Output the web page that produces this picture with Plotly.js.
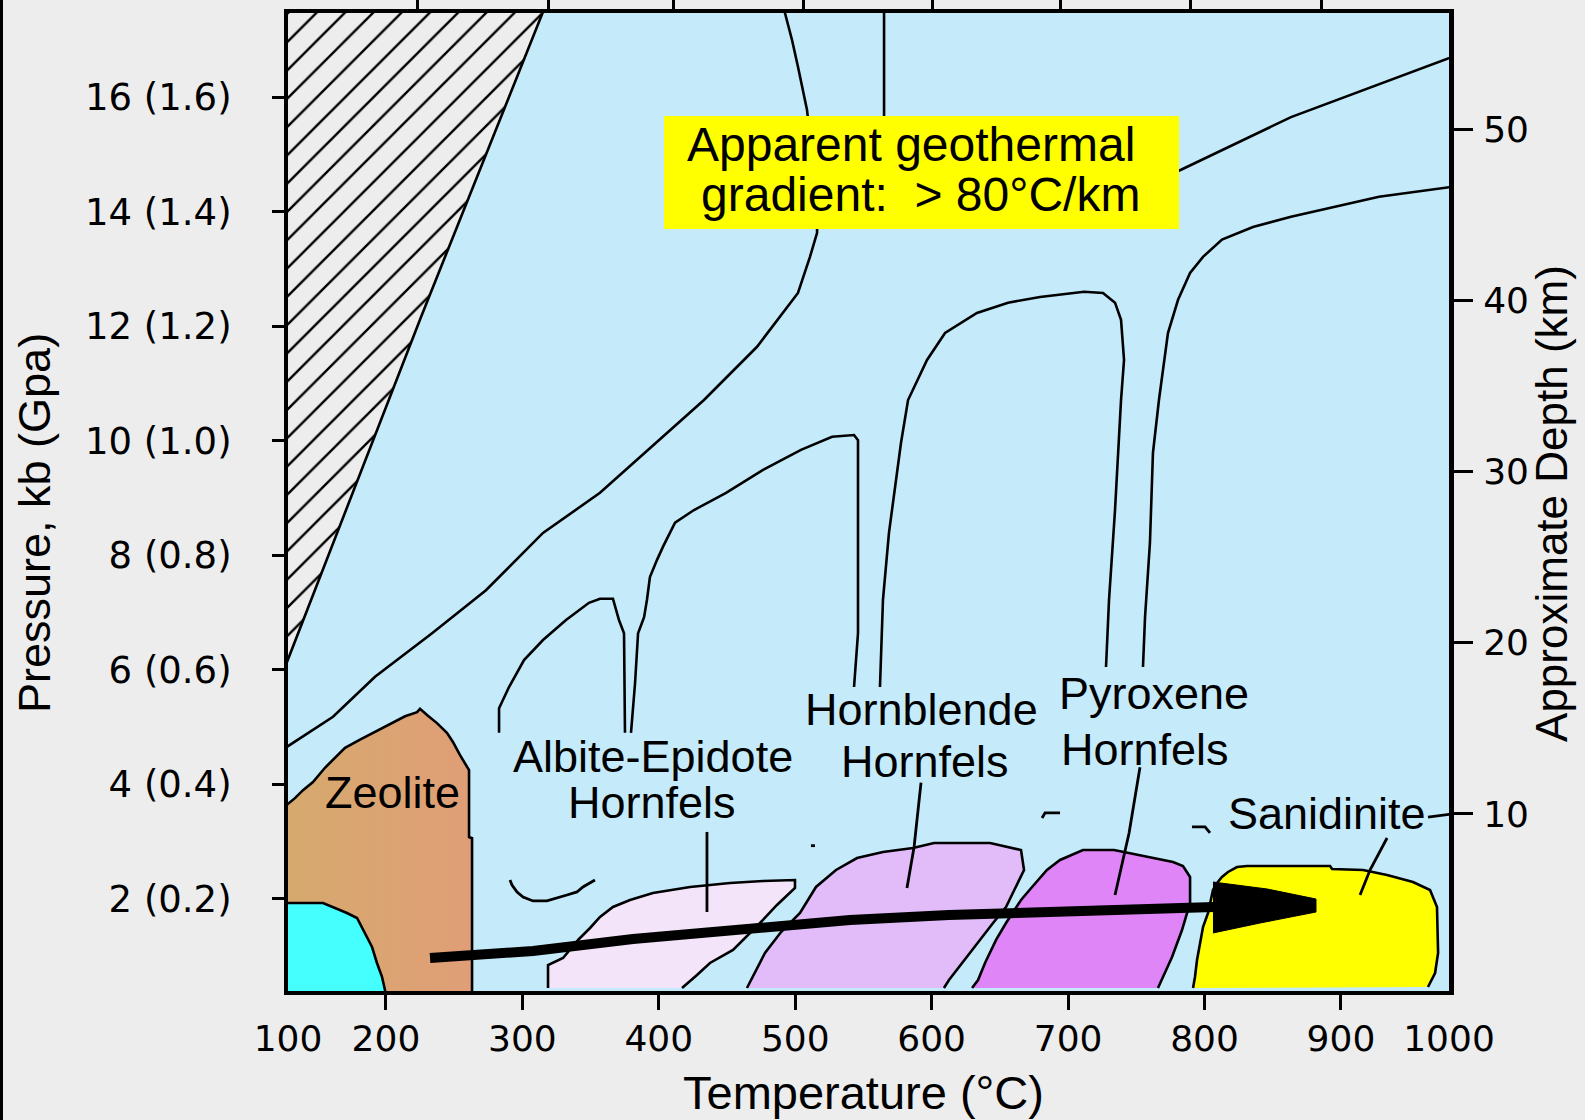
<!DOCTYPE html>
<html>
<head>
<meta charset="utf-8">
<script src="https://cdn.plot.ly/plotly-3.0.1.min.js"></script>
<style>
html,body{margin:0;padding:0;background:#EDEDED;overflow:hidden}
#edge{position:absolute;left:0;top:0;width:3px;height:1120px;background:#000;z-index:5}
</style>
</head>
<body>
<div id="chart" style="width:1585px;height:1120px"></div>
<div id="edge"></div>
<script>
// ---------- axes (Temperature °C, Pressure kb, Depth km) ----------
const xRange = [128.2, 979.2];
const pRange = [0.393, 17.467];
const depthRange = [-0.34, 56.79];
const xTickVals = [200, 300, 400, 500, 600, 700, 800, 900];
const xLabelVals = [128.2, 200, 300, 400, 500, 600, 700, 800, 900, 979.2];
const xLabelText = ['100', '200', '300', '400', '500', '600', '700', '800', '900', '1000'];
const topTickVals = [222.8, 319.5, 410.4, 506.4, 600.3, 694.1, 789.4, 885.4];
const pTickVals = [2, 4, 6, 8, 10, 12, 14, 16];
const pTickText = ['2 (0.2)', '4 (0.4)', '6 (0.6)', '8 (0.8)', '10 (1.0)', '12 (1.2)', '14 (1.4)', '16 (1.6)'];
const depthTickVals = [10, 20, 30, 40, 50];

// ---------- hatched (impossible) field ----------
const hatchEdgeT = [317, 225.7, 120];
const hatchEdgeP = [17.6, 12.16, 5.68];
const hatchCornerT = [120];
const hatchCornerP = [17.6];

// ---------- facies boundary curves ----------
const lowCurveT = [120, 138.5, 161.2, 192.0, 233.8, 273.3, 315.1, 356.9, 433.1, 472.0, 494.7, 502.0, 510.8, 516.0, 516.0, 508.6, 502.0, 497.6, 491];
const lowCurveP = [4.54, 4.83, 5.18, 5.88, 6.64, 7.39, 8.39, 9.09, 10.71, 11.64, 12.34, 12.58, 13.21, 13.63, 14.20, 15.78, 16.53, 17.00, 17.6];
const vertT = [565.1, 565.1];
const vertP = [17.6, 15.2];
const upperT = [987.3, 863.4, 782.8, 771.1];
const upperP = [16.75, 15.65, 14.73, 14.61];
const highT = [987.3, 927.9, 863.4, 835.5, 812.8, 798.9, 789.4, 780.6, 773.2, 766.6, 762.2, 760.0, 756.4, 754.9];
const highP = [14.45, 14.26, 13.91, 13.73, 13.51, 13.21, 12.93, 12.46, 11.88, 10.71, 9.79, 8.22, 6.92, 6.05];
const pxHumpT = [562.1, 564.3, 568.7, 577.5, 582.7, 596.6, 609.8, 633.2, 656.0, 679.4, 711.7, 725.6, 734.4, 738.8, 741.0, 738.8, 734.4, 730.0, 727.8];
const pxHumpP = [5.70, 7.22, 8.39, 9.96, 10.71, 11.41, 11.88, 12.23, 12.41, 12.51, 12.60, 12.58, 12.41, 12.11, 11.41, 10.71, 8.79, 7.22, 6.05];
const hbHumpT = [379.6, 382.6, 384.8, 389.2, 391.3, 393.5, 398.7, 403.1, 411.9, 425.8, 449.3, 476.4, 504.2, 527.0, 543.1, 546.0, 546.0, 543.1];
const hbHumpP = [4.90, 5.77, 6.64, 6.92, 7.22, 7.62, 7.92, 8.15, 8.57, 8.79, 9.09, 9.49, 9.84, 10.07, 10.10, 10.01, 6.64, 5.70];
const abHumpT = [282.9, 282.9, 290.2, 301.2, 315.1, 332.0, 348.8, 356.9, 366.4, 370.8, 374.5, 375.2];
const abHumpP = [4.90, 5.33, 5.70, 6.17, 6.52, 6.87, 7.17, 7.24, 7.24, 6.87, 6.64, 4.90];

// ---------- contact-metamorphic facies fields ----------
const zeoT = [120, 133.3, 139.2, 146.5, 155.3, 161.2, 170.0, 181.0, 190.5, 200.8, 214.0, 222.8, 225.0, 230.1, 237.4, 244.7, 249.1, 254.3, 257.9, 260.9, 260.9, 263.1, 263.1];
const zeoP = [3.50, 3.76, 3.90, 4.04, 4.29, 4.43, 4.64, 4.78, 4.90, 5.02, 5.19, 5.26, 5.32, 5.21, 5.07, 4.90, 4.74, 4.51, 4.37, 4.25, 3.08, 3.06, 0.2];
const cyanT = [199.3, 199.3, 197.1, 193.4, 189.8, 183.2, 178.8, 171.4, 161.2, 153.9, 120];
const cyanP = [0.2, 0.41, 0.64, 0.882, 1.161, 1.458, 1.668, 1.755, 1.86, 1.93, 1.93];
const cyanCornerT = [120];
const cyanCornerP = [0.2];
const abT = [318.8, 318.8, 329.8, 340.8, 349.6, 356.9, 366.4, 378.9, 395.7, 422.9, 452.2, 476.4, 499.8, 499.8, 486.6, 474.2, 454.4, 437.5, 428.0, 417.0];
const abP = [0.445, 0.847, 0.969, 1.284, 1.493, 1.685, 1.86, 1.982, 2.104, 2.209, 2.279, 2.314, 2.331, 2.191, 1.895, 1.58, 1.109, 0.882, 0.672, 0.445];
const hbT = [464.6, 470.5, 477.8, 489.6, 503.5, 515.2, 529.9, 545.3, 564.3, 586.3, 601.7, 642.8, 665.5, 667.7, 664.0, 654.5, 645.0, 635.4, 624.4, 612.7, 609.0];
const hbP = [0.445, 0.725, 1.056, 1.423, 1.755, 2.209, 2.506, 2.715, 2.82, 2.89, 2.977, 2.977, 2.855, 2.506, 2.331, 1.86, 1.58, 1.284, 0.934, 0.585, 0.445];
const pxT = [629.6, 634.0, 639.1, 647.2, 654.5, 665.5, 673.6, 684.5, 694.1, 710.9, 733.7, 760.0, 776.9, 784.2, 789.4, 789.4, 783.5, 776.2, 768.8, 765.9];
const pxP = [0.445, 0.585, 0.882, 1.284, 1.58, 1.982, 2.209, 2.506, 2.68, 2.855, 2.855, 2.733, 2.646, 2.576, 2.384, 1.93, 1.458, 0.987, 0.585, 0.445];
const sdT = [791.6, 793.0, 794.5, 796.7, 798.9, 802.6, 806.2, 809.2, 812.8, 817.2, 823.8, 831.2, 892.0, 893.5, 916.2, 933.8, 952.8, 965.3, 970.4, 971.2, 969.0, 963.8];
const sdP = [0.445, 0.637, 0.934, 1.231, 1.51, 1.755, 2.157, 2.279, 2.384, 2.471, 2.558, 2.576, 2.576, 2.523, 2.506, 2.418, 2.296, 2.157, 1.86, 1.056, 0.707, 0.463];

// ---------- path arrow ----------
const arrowT = [232.3, 307.8, 381.1, 454.4, 488.8, 540.1, 612.7, 718.3, 807.0];
const arrowP = [0.969, 1.091, 1.301, 1.458, 1.563, 1.633, 1.72, 1.79, 1.86];
const headT = [806.2, 845.8, 881.7, 881.7, 840.7, 806.2];
const headP = [2.296, 2.174, 1.999, 1.772, 1.58, 1.406];

// ---------- label leaders and small marks ----------
const abLeaderT = [435.3, 435.3];
const abLeaderP = [3.17, 1.772];
const hbLeaderT = [592.2, 587.1, 581.9];
const hbLeaderP = [4.03, 2.907, 2.191];
const pxLeaderT = [752.7, 744.7, 734.4];
const pxLeaderP = [4.30, 3.152, 2.069];
const sdLeaderT = [933.8, 921.3, 914.0];
const sdLeaderP = [3.064, 2.506, 2.069];
const sdDashT = [963.8, 980];
const sdDashP = [3.43, 3.48];
const cupT = [290.9, 292.4, 296.1, 300.5, 307.8, 318.0, 332.7, 340.0, 344.4, 353.2];
const cupP = [2.331, 2.244, 2.122, 2.034, 1.965, 1.965, 2.069, 2.122, 2.209, 2.331];
const mark1T = [511.5, 514.5];
const mark1P = [2.93, 2.93];
const mark2T = [680.9, 683.1, 694.1];
const mark2P = [3.414, 3.501, 3.501];
const mark3T = [790.8, 800.4, 804.0];
const mark3P = [3.257, 3.257, 3.152];

// ---------- text ----------
const faciesLabels = ['Zeolite', 'Albite-Epidote', 'Hornfels', 'Hornblende', 'Hornfels', 'Pyroxene', 'Hornfels', 'Sanidinite'];
const faciesLabelT = [204.8, 396.1, 395.0, 592.9, 595.1, 763.3, 756.4, 890.1];
const faciesLabelP = [3.859, 4.488, 3.684, 5.30, 4.40, 5.579, 4.610, 3.484];
const boxLines = ['Apparent geothermal', 'gradient:&nbsp; &gt; 80°C/km'];
const boxLineT = [584.9, 591.5];
const boxLineP = [15.165, 14.292];

// ---------- build ----------
const BLACK = '#000000';
function line(T, P, w) {
  return {type: 'scatter', mode: 'lines', x: T, y: P, line: {color: BLACK, width: w},
          hoverinfo: 'skip', showlegend: false};
}
function region(T, P, fill, w) {
  return {type: 'scatter', mode: 'lines', x: T, y: P, fill: 'toself', fillcolor: fill,
          line: {color: BLACK, width: w}, hoverinfo: 'skip', showlegend: false};
}

const traces = [];
// hatched field
traces.push({type: 'scatter', mode: 'lines', x: hatchCornerT.concat(hatchEdgeT), y: hatchCornerP.concat(hatchEdgeP),
  fill: 'toself', fillcolor: '#EDEDED',
  fillpattern: {shape: '/', fgcolor: BLACK, bgcolor: '#EDEDED', size: 20, solidity: 0.12},
  line: {width: 0, color: 'rgba(0,0,0,0)'}, hoverinfo: 'skip', showlegend: false});
traces.push(line(hatchEdgeT, hatchEdgeP, 2.6));

// zeolite and cyan fields
traces.push({type: 'scatter', mode: 'lines', x: zeoT.concat(cyanT), y: zeoP.concat(cyanP),
  fill: 'toself', fillcolor: '#DBA672',
  fillgradient: {type: 'horizontal', colorscale: [[0, '#D5AA6D'], [1, '#E09E77']]},
  line: {width: 0, color: 'rgba(0,0,0,0)'}, hoverinfo: 'skip', showlegend: false});
traces.push({type: 'scatter', mode: 'lines', x: cyanT.concat(cyanCornerT), y: cyanP.concat(cyanCornerP),
  fill: 'toself', fillcolor: '#45FFFF',
  line: {width: 0, color: 'rgba(0,0,0,0)'}, hoverinfo: 'skip', showlegend: false});
traces.push(line(zeoT, zeoP, 2.6));
traces.push(line(cyanT, cyanP, 2.6));

// hornfels fields
traces.push(region(abT, abP, '#F4E4FA', 2.6));
traces.push(region(hbT, hbP, '#E2BCF9', 2.6));
traces.push(region(pxT, pxP, '#E085F8', 2.6));
traces.push(region(sdT, sdP, '#FFFF00', 2.6));

// boundary curves
[[lowCurveT, lowCurveP], [vertT, vertP], [upperT, upperP], [highT, highP],
 [pxHumpT, pxHumpP], [hbHumpT, hbHumpP], [abHumpT, abHumpP]].forEach(function (c) {
  traces.push(line(c[0], c[1], 2.6));
});

// leaders and marks
[[abLeaderT, abLeaderP], [hbLeaderT, hbLeaderP], [pxLeaderT, pxLeaderP], [sdLeaderT, sdLeaderP],
 [sdDashT, sdDashP], [cupT, cupP], [mark1T, mark1P], [mark2T, mark2P], [mark3T, mark3P]].forEach(function (c) {
  traces.push(line(c[0], c[1], 2.8));
});

// arrow
traces.push(line(arrowT, arrowP, 10));
traces.push({type: 'scatter', mode: 'lines', x: headT, y: headP, fill: 'toself', fillcolor: BLACK,
  line: {color: BLACK, width: 1}, hoverinfo: 'skip', showlegend: false});

// anchor traces for the secondary axes (invisible)
traces.push({type: 'scatter', mode: 'markers', x: [xTickVals[3]], y: [depthTickVals[1]], xaxis: 'x2', yaxis: 'y2',
  marker: {opacity: 0}, hoverinfo: 'skip', showlegend: false});
traces.push({type: 'scatter', mode: 'markers', x: [xTickVals[3]], y: [pTickVals[1]], xaxis: 'x3', yaxis: 'y',
  marker: {opacity: 0}, hoverinfo: 'skip', showlegend: false});

const tickFont = {family: 'DejaVu Sans', size: 36, color: BLACK};
const labelFont = {family: 'Liberation Sans, Arial, sans-serif', size: 45, color: BLACK};

const annotations = [];
faciesLabels.forEach(function (t, i) {
  annotations.push({xref: 'x', yref: 'y', x: faciesLabelT[i], y: faciesLabelP[i], text: t,
    showarrow: false, xanchor: 'center', yanchor: 'middle', font: labelFont});
});
boxLines.forEach(function (t, i) {
  annotations.push({xref: 'x', yref: 'y', x: boxLineT[i], y: boxLineP[i], text: t,
    showarrow: false, xanchor: 'center', yanchor: 'middle',
    font: {family: 'Liberation Sans, Arial, sans-serif', size: 48, color: BLACK}});
});
// axis titles
annotations.push({xref: 'paper', yref: 'paper', x: 0.4961, y: -0.1033, text: 'Temperature (°C)',
  showarrow: false, xanchor: 'center', yanchor: 'middle',
  font: {family: 'Liberation Sans, Arial, sans-serif', size: 47, color: BLACK}});
annotations.push({xref: 'paper', yref: 'paper', x: -0.2188, y: 0.4785, text: 'Pressure, kb (Gpa)', textangle: -90,
  showarrow: false, xanchor: 'center', yanchor: 'middle',
  font: {family: 'Liberation Sans, Arial, sans-serif', size: 45, color: BLACK}});
annotations.push({xref: 'paper', yref: 'paper', x: 1.0887, y: 0.499, text: 'Approximate Depth (km)', textangle: -90,
  showarrow: false, xanchor: 'center', yanchor: 'middle',
  font: {family: 'Liberation Sans, Arial, sans-serif', size: 44, color: BLACK}});

const layout = {
  width: 1585, height: 1120,
  margin: {l: 288, r: 136, t: 13, b: 129, pad: 0},
  paper_bgcolor: '#EDEDED', plot_bgcolor: '#C5EBFB',
  showlegend: false, hovermode: false,
  font: {family: 'DejaVu Sans', color: BLACK},
  xaxis: {range: xRange, tickmode: 'array', tickvals: xTickVals, showticklabels: false,
    ticks: 'outside', ticklen: 15, tickwidth: 3, tickcolor: BLACK,
    showline: true, linecolor: BLACK, linewidth: 4, showgrid: false, zeroline: false},
  xaxis2: {overlaying: 'x', side: 'top', anchor: 'y2', range: xRange, tickmode: 'array', tickvals: topTickVals,
    showticklabels: false, ticks: 'outside', ticklen: 10, tickwidth: 3, tickcolor: BLACK,
    showline: true, linecolor: BLACK, linewidth: 4, showgrid: false, zeroline: false},
  xaxis3: {overlaying: 'x', side: 'bottom', anchor: 'y', range: xRange, tickmode: 'array',
    tickvals: xLabelVals, ticktext: xLabelText, ticks: '', showline: false, showgrid: false, zeroline: false,
    tickfont: tickFont, ticklabelstandoff: 23},
  yaxis: {range: pRange, tickmode: 'array', tickvals: pTickVals, ticktext: pTickText,
    ticks: 'outside', ticklen: 12, tickwidth: 3, tickcolor: BLACK,
    showline: true, linecolor: BLACK, linewidth: 4, showgrid: false, zeroline: false,
    tickfont: {family: 'DejaVu Sans', size: 37, color: BLACK}, ticklabelstandoff: 33},
  yaxis2: {overlaying: 'y', side: 'right', anchor: 'x2', range: depthRange, tickmode: 'array',
    tickvals: depthTickVals, ticks: 'outside', ticklen: 19, tickwidth: 3, tickcolor: BLACK,
    showline: true, linecolor: BLACK, linewidth: 5, showgrid: false, zeroline: false,
    tickfont: tickFont, ticklabelstandoff: 3},
  shapes: [{type: 'rect', xref: 'x', yref: 'y', x0: 403.8, x1: 781.3, y0: 13.698, y1: 15.671,
    fillcolor: '#FFFF00', line: {width: 0}, layer: 'above'}],
  annotations: annotations
};

Plotly.newPlot('chart', traces, layout, {displayModeBar: false, staticPlot: true});
</script>
</body>
</html>
